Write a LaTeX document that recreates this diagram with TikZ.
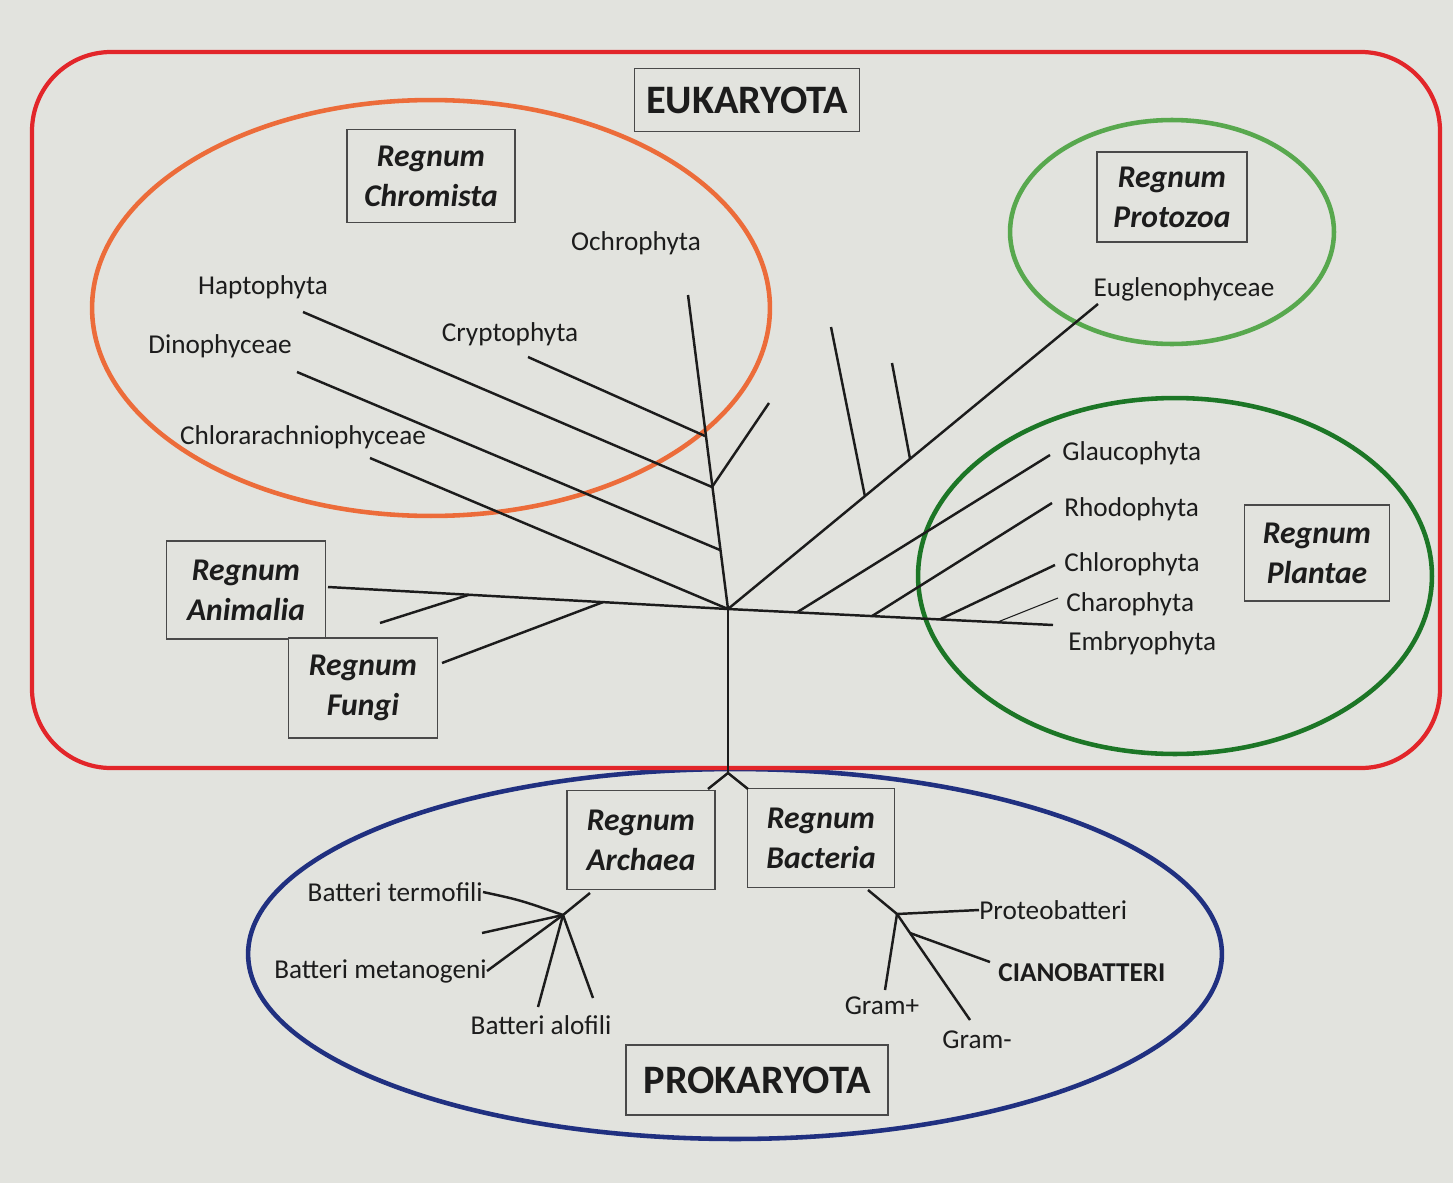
\documentclass[tikz,border=0pt]{standalone}
\usepackage{fontspec}
\setmainfont{Carlito}
\usetikzlibrary{calc}
\definecolor{paper}{RGB}{226,227,222}
\definecolor{eured}{RGB}{226,38,42}
\definecolor{chrom}{RGB}{236,108,58}
\definecolor{protg}{RGB}{88,168,78}
\definecolor{plantg}{RGB}{28,118,38}
\definecolor{prokb}{RGB}{32,48,128}
\definecolor{ink}{RGB}{28,28,28}
\begin{document}
\begin{tikzpicture}[x=0.02cm,y=-0.02cm,
  lbl/.style={font=\fontsize{15.5}{18}\selectfont, text=ink, inner sep=0pt},
  regbox/.style={draw=ink!80, line width=0.8pt, fill=paper, text=ink,
     font=\fontsize{18}{22.7}\selectfont\bfseries\itshape, align=center,
     inner sep=0pt, minimum width=2.96cm, minimum height=1.96cm},
  bigbox/.style={draw=ink!80, line width=0.8pt, fill=paper, text=ink,
     font=\fontsize{23}{26}\selectfont\bfseries, inner sep=0pt},
  br/.style={line width=1.4pt, draw=ink},
  thinbr/.style={line width=0.6pt, draw=ink},
  circ/.style={line width=2.6pt}
]
\fill[paper] (0,0) rectangle (1453,1183);
\useasboundingbox (0,0) rectangle (1453,1183);

% ellipses and frame
\draw[chrom, circ] (431,308) ellipse [x radius=6.78cm, y radius=4.16cm];
\draw[protg, circ] (1172,232) ellipse [x radius=3.24cm, y radius=2.24cm];
\draw[plantg, circ] (1175,576) ellipse [x radius=5.14cm, y radius=3.56cm];
\draw[prokb, circ] (735,954) ellipse [x radius=9.74cm, y radius=3.7cm];
\draw[eured, line width=2.4pt, rounded corners=45pt] (32,52) rectangle (1440,768);

% boxes
\node[bigbox, minimum width=4.5cm, minimum height=1.26cm] (euk) at (747,100) {EUKARYOTA};
\node[bigbox, minimum width=5.24cm, minimum height=1.4cm] (prok) at (757,1080) {PROKARYOTA};
\node[regbox, minimum width=3.36cm, minimum height=1.86cm] (chr) at (431,176) {Regnum\\Chromista};
\node[regbox, minimum width=3.0cm, minimum height=1.8cm] (pro) at (1172,197) {Regnum\\Protozoa};
\node[regbox, minimum width=2.9cm, minimum height=1.92cm] (pla) at (1317,553) {Regnum\\Plantae};
\node[regbox, minimum width=3.18cm, minimum height=1.96cm] (ani) at (246,590) {Regnum\\Animalia};
\node[regbox, minimum width=2.98cm, minimum height=2.0cm] (fun) at (363,688) {Regnum\\Fungi};
\node[regbox, minimum width=2.96cm, minimum height=1.98cm] (arc) at (641,840) {Regnum\\Archaea};
\node[regbox, minimum width=2.94cm, minimum height=1.98cm] (bac) at (821,838) {Regnum\\Bacteria};

% labels
\node[lbl] (och) at (636,243) {Ochrophyta};
\node[lbl] (hap) at (263,287) {Haptophyta};
\node[lbl] (din) at (220,346) {Dinophyceae};
\node[lbl] (cry) at (510,334) {Cryptophyta};
\node[lbl] (chl) at (303,437) {Chlorarachniophyceae};
\node[lbl] (eug) at (1184,289) {Euglenophyceae};
\node[lbl, anchor=west] (gla) at (1062,453) {Glaucophyta};
\node[lbl, anchor=west] (rho) at (1064,509) {Rhodophyta};
\node[lbl, anchor=west] (chlo) at (1064,564) {Chlorophyta};
\node[lbl, anchor=west] (cha) at (1066,604) {Charophyta};
\node[lbl, anchor=west] (emb) at (1068,643) {Embryophyta};
\node[lbl, anchor=east] (ter) at (483,892) {Batteri termofili};
\node[lbl, anchor=east] (met) at (487,971) {Batteri metanogeni};
\node[lbl] (alo) at (541,1025) {Batteri alofili};
\node[lbl, anchor=west] (prot) at (979,910) {Proteobatteri};
\node[lbl, anchor=west, font=\fontsize{15.5}{18}\selectfont\bfseries] (cia) at (998,973) {CIANOBATTERI};
\node[lbl] (gp) at (882,1006) {Gram+};
\node[lbl] (gm) at (977,1040) {Gram-};

% tree coordinates
\coordinate (root) at (728,609);
\coordinate (tOch) at (688,295);
\coordinate (jCry) at (705,436);
\coordinate (jHap) at (712,487);
\coordinate (jDin) at (720,550);
\coordinate (up1) at (769,403);
\coordinate (cryE) at (528,357);
\coordinate (hapE) at (303,312);
\coordinate (dinE) at (297,372);
\coordinate (chlE) at (370,458);
\coordinate (aniE) at (328,587);
\path (aniE) -- (root) coordinate[pos=0.3525] (jAni) coordinate[pos=0.6875] (jFun);
\coordinate (aniS) at (380,623);
\coordinate (funE) at (442,663);
\coordinate (eugE) at (1098,304);
\coordinate (embE) at (1053,625);
\path (root) -- (eugE) coordinate[pos=0.37] (jB1) coordinate[pos=0.492] (jB2);
\coordinate (b1T) at (831,327);
\coordinate (b2T) at (892,363);
\path (root) -- (embE) coordinate[pos=0.212] (jGla) coordinate[pos=0.443] (jRho)
      coordinate[pos=0.652] (jChl) coordinate[pos=0.828] (jCha);
\coordinate (glaE) at (1050,455);
\coordinate (rhoE) at (1052,503);
\coordinate (chlorE) at (1055,565);
\coordinate (chaE) at (1058,598);
\coordinate (jPro) at (728,773);
\coordinate (arcT) at (708,789);
\coordinate (bacT) at (748,789);
\coordinate (arcB) at (590,893);
\coordinate (aN) at (563,915);
\coordinate (bacB) at (868,890);
\coordinate (bN) at (897,914);
\coordinate (bM) at (910,933);

% eukaryote tree
\draw[br] (tOch) -- (root);
\draw[br] (cryE) -- (jCry);
\draw[br] (hapE) -- (jHap);
\draw[br] (jHap) -- (up1);
\draw[br] (dinE) -- (jDin);
\draw[br] (chlE) -- (root);
\draw[br] (aniE) -- (root);
\draw[br] (aniS) -- (jAni);
\draw[br] (funE) -- (jFun);
\draw[br] (root) -- (eugE);
\draw[br] (b1T) -- (jB1);
\draw[br] (b2T) -- (jB2);
\draw[br] (root) -- (embE);
\draw[br] (jGla) -- (glaE);
\draw[br] (jRho) -- (rhoE);
\draw[br] (jChl) -- (chlorE);
\draw[thinbr] (jCha) -- (chaE);

% trunk to prokaryotes
\draw[br] (root) -- (jPro);
\draw[br] (jPro) -- (arcT);
\draw[br] (jPro) -- (bacT);

% archaea tree
\draw[br] (arcB) -- (aN);
\draw[br] (ter.east) .. controls (520,900) .. (aN);
\draw[br] (482,933) -- (aN);
\draw[br] (met.east) -- (aN);
\draw[br] (538,1007) -- (aN);
\draw[br] (593,998) -- (aN);

% bacteria tree
\draw[br] (bacB) -- (bN);
\draw[br] (bN) -- (prot.west);
\draw[br] (bN) -- (885,990);
\draw[br] (bN) -- (bM) -- (970,1020);
\draw[br] (bM) -- (990,962);
\end{tikzpicture}
\end{document}
